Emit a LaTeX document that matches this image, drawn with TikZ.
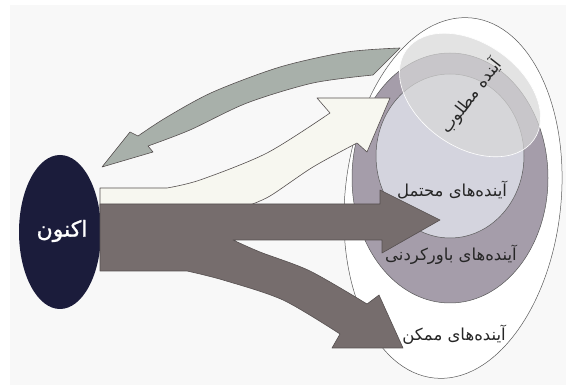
\documentclass[tikz,border=0pt]{standalone}
\usepackage{fontspec}
\usetikzlibrary{positioning}
\TeXXeTstate=1
\newfontfamily\farsi[Script=Arabic]{DejaVu Sans}
\newfontfamily\farsibold[Script=Arabic,FakeBold=1.2]{DejaVu Sans}
\definecolor{Paper}{RGB}{248,248,248}
\definecolor{NowBlue}{RGB}{27,28,59}
\definecolor{Plausible}{RGB}{165,157,170}
\definecolor{Probable}{RGB}{212,212,222}
\definecolor{Veil}{RGB}{216,216,216}
\definecolor{Edge}{RGB}{86,80,80}
\definecolor{Brown}{RGB}{118,109,109}
\definecolor{Sage}{RGB}{168,176,170}
\definecolor{Cream}{RGB}{247,247,240}

\begin{document}
\begin{tikzpicture}[x=1pt, y=-1pt,
  cone/.style={draw=gray!70!black, line width=0.5pt},
  block/.style={draw=Edge, line width=0.6pt, line join=round},
  farsilabel/.style={font=\farsi\fontsize{16.5}{19}\selectfont, inner sep=0pt, text=black!85}]
\useasboundingbox (0,0) rectangle (566,385);
\fill[white] (0,0) rectangle (566,385);
\fill[Paper] (10,5) rectangle (566,385);

% Future cones
\draw[cone, fill=white, rotate around={-6:(453,198)}] (453,198) ellipse [x radius=108pt, y radius=181pt];
\draw[cone, fill=Plausible] (450,178) ellipse [x radius=98pt, y radius=125pt];
\draw[cone, fill=Probable] (450,156) ellipse [x radius=74pt, y radius=82pt];
\draw[white, line width=0.6pt, fill=Veil, fill opacity=0.7, rotate around={-35:(470,95)}] (470,95) ellipse [x radius=78pt, y radius=52pt];

% Now
\fill[NowBlue] (60,232) ellipse [x radius=41pt, y radius=77pt];

% Back-casting arrow
\draw[block, fill=Sage] (102,167) -- (130,132) -- (138,136)
  -- plot[smooth] coordinates {(138,136) (167,117) (213,92) (280,67) (347,52) (400,48)}
  -- (373,75)
  -- plot[smooth] coordinates {(373,75) (313,83) (247,103) (190,130) (148,146)}
  -- (153,152) -- cycle;

% Cream arrow
\draw[block, fill=Cream] (100,210) -- (100,188) -- (167,188)
  -- plot[smooth] coordinates {(167,188) (200,180) (267,153) (330,113)}
  -- (317,98) -- (390,98) -- (367,152) -- (357,143)
  -- plot[smooth] coordinates {(357,143) (313,167) (270,196) (247,206)}
  -- (247,210) -- cycle;

% Forecast arrows
\draw[block, fill=Brown] (100,204) -- (380,204) -- (380,190) -- (440,220) -- (382,253) -- (382,240) -- (233,240)
  -- plot[smooth] coordinates {(233,240) (260,252) (310,271) (367,304)}
  -- (379,295) -- (403,348) -- (332,348) -- (340,334)
  -- plot[smooth] coordinates {(340,334) (283,300) (223,280) (187,271)}
  -- (100,271) -- cycle;

% Labels
\node[farsilabel, text=white, font=\farsibold\fontsize{22}{25}\selectfont] (now) at (62,231) {\beginR اکنون\endR};
\node[farsilabel] (probable) at (452,190) {\beginR آینده^^^^200cهای محتمل\endR};
\node[farsilabel] (plausible) at (451,255) {\beginR آینده^^^^200cهای باورکردنی\endR};
\node[farsilabel] (possible) at (454,335) {\beginR آینده^^^^200cهای ممکن\endR};
\node[farsilabel, rotate=52] (preferable) at (471,96) {\beginR آینده مطلوب\endR};
\end{tikzpicture}
\end{document}
